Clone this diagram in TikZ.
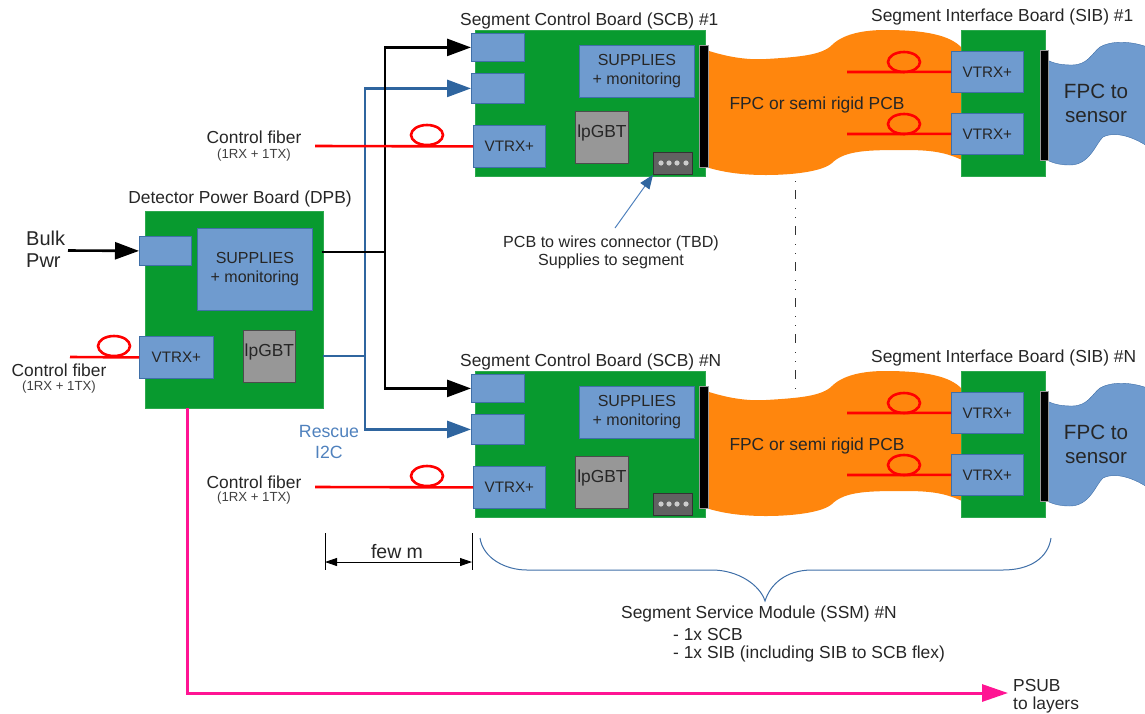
\documentclass[tikz,border=0pt]{standalone}
\usepackage{fontspec}
\setmainfont{Liberation Sans}
\usetikzlibrary{arrows.meta}

\definecolor{boardgreen}{HTML}{089A2F}
\definecolor{partblue}{HTML}{6F9BCF}
\definecolor{partedge}{HTML}{3F6FA8}
\definecolor{wireblue}{HTML}{2F659F}
\definecolor{labelblue}{HTML}{4F81BD}
\definecolor{flexorange}{HTML}{FF860D}
\definecolor{chipgrey}{HTML}{979797}
\definecolor{pinkwire}{HTML}{FF1493}

\tikzset{
  board/.style={fill=boardgreen, draw=boardgreen!85!white, inner sep=0pt},
  part/.style={fill=partblue, draw=partedge, line width=0.8pt, inner sep=0pt, align=center, text=black!85, font=\fontsize{16}{19}\selectfont},
  vtrx/.style={part, font=\fontsize{15.2}{18}\selectfont},
  chip/.style={fill=chipgrey, draw=black!70, line width=0.8pt, inner sep=0pt},
  plug/.style={fill=black!62, draw=black!80, line width=0.8pt, inner sep=0pt},
  bar/.style={fill=black, draw=black!40, inner sep=0pt},
  txt/.style={inner sep=0pt, align=center, text=black!85, font=\fontsize{17.4}{18}\selectfont},
  small/.style={inner sep=0pt, text=black!75, font=\fontsize{13.2}{15}\selectfont},
  fiber/.style={draw=red, line width=2.6pt},
  pwr/.style={draw=black, line width=2.6pt},
  pwrtip/.style={-{Triangle[length=24pt,width=17pt,black]}},
  i2c/.style={draw=wireblue, line width=2.6pt},
  i2ctip/.style={-{Triangle[length=24pt,width=17pt,wireblue]}},
}

% box from top left corner, in pixels: style, name, corner, width, height, text
\newcommand{\boxat}[6]{\node[#1, anchor=north west, minimum width=#4pt, minimum height=#5pt] (#2) at (#3) {#6};}

\begin{document}
\begin{tikzpicture}[x=1pt,y=-1pt]
  \useasboundingbox (0,0) rectangle (1145,713);

  % vertical dash dot between the two rows
  \coordinate (dashtop) at (795,181);
  \coordinate (dashbot) at (795,396);
  \draw[black!80, line width=0.8pt, dash pattern=on 1pt off 8pt on 9pt off 9pt on 1pt off 8pt] (dashtop) -- (dashbot);

  % the two segments
  \foreach \row/\dy/\dl/\num in {a/0/0/1, b/341/345/N} {
    \begin{scope}[yshift=-\dy pt]
      % flex and sensor tail
      \fill[flexorange] (706,50) .. controls (730,58) and (750,60) .. (766,59)
        .. controls (800,57) and (822,55) .. (832,45)
        .. controls (845,32) and (870,30) .. (885,30)
        .. controls (925,30) and (950,35) .. (962,48)
        -- (962,160) .. controls (945,152) and (930,150) .. (905,150)
        .. controls (870,150) and (845,150) .. (832,163)
        .. controls (822,172) and (790,175) .. (766,175)
        .. controls (745,175) and (725,173) .. (706,167) -- cycle;
      \draw[fill=partblue, draw=partedge] (1047,60) .. controls (1055,64) and (1063,65) .. (1072,65)
        .. controls (1088,65) and (1092,53) .. (1100,47)
        .. controls (1110,41) and (1130,40) .. (1150,48)
        -- (1150,148) .. controls (1130,134) and (1112,132) .. (1103,137)
        .. controls (1096,143) and (1090,165) .. (1070,165)
        .. controls (1062,165) and (1055,164) .. (1047,160) -- cycle;

      % SCB
      \boxat{board}{scb\row}{475,30}{230}{146}{}
      \boxat{part}{pin\row}{471,33}{53}{28}{}
      \boxat{part}{rin\row}{471,73}{53}{30}{}
      \boxat{vtrx}{vtrx\row}{473,125}{72}{42}{VTRX+}
      \boxat{part}{sup\row}{579,45}{115}{52}{SUPPLIES\\+ monitoring}
      \node[chip, anchor=north west, minimum width=53pt, minimum height=52pt] (gbt\row) at (575,{111+\dl-\dy}) {};
      \node[txt] (gbtl\row) at ([yshift=4pt]gbt\row.center) {lpGBT};
      \boxat{plug}{con\row}{653,152}{39}{22}{}
      \foreach \px in {661,669,677,686} {
        \fill[black!20] (\px,163) circle (2.6pt);
      }
      \boxat{bar}{bara\row}{699,45}{9}{122}{}
      \node[txt, anchor=west] (scbl\row) at (460,21) {Segment Control Board (SCB) \#\num};

      % SIB
      \boxat{board}{sib\row}{961,30}{84}{146}{}
      \boxat{vtrx}{vt\row}{951,51}{72}{41}{VTRX+}
      \boxat{vtrx}{vu\row}{951,113}{72}{41}{VTRX+}
      \boxat{bar}{barb\row}{1040,50}{8}{110}{}
      \node[txt, anchor=west] (sibl\row) at (871,17) {Segment Interface Board (SIB) \#\num};
      \node[txt] (flexl\row) at (817,105) {FPC or semi rigid PCB};
      \node[txt, font=\fontsize{20.6}{24}\selectfont] (fpcl\row) at (1096,103) {FPC to\\sensor};

      % fibers on the flex
      \coordinate (ft\row) at (847,72);
      \coordinate (fu\row) at (847,134);
      \draw[fiber] (ft\row) -- (vt\row.west);
      \draw[fiber] (fu\row) -- (vu\row.west);
      \draw[fiber] (904,62) ellipse (16 and 10);
      \draw[fiber] (904,124) ellipse (16 and 10);
    \end{scope}
  }

  % DPB
  \boxat{board}{dpb}{145,211}{178}{197}{}
  \boxat{part}{pwrin}{139,236}{52}{29}{}
  \boxat{part}{supd}{197,228}{115}{82}{SUPPLIES\\+ monitoring}
  \boxat{vtrx}{vtrxd}{139,336}{74}{42}{VTRX+}
  \boxat{chip}{gbtd}{243,330}{52}{52}{}
  \node[txt] (gbtld) at ([yshift=4pt]gbtd.center) {lpGBT};
  \node[txt] (dpbl) at (240,199) {Detector Power Board (DPB)};

  % power and rescue wires
  \coordinate (pwrout) at (322,252);
  \coordinate (pwrbus) at (385,252);
  \coordinate (i2cout) at (323,356);
  \coordinate (i2cbus) at (365,356);
  \draw[i2c] (i2cout) -- (i2cbus);
  \draw[i2c, i2ctip] (i2cbus) |- (rina.west);
  \draw[i2c, i2ctip] (i2cbus) |- (rinb.west);
  \draw[pwr] (pwrout) -- (pwrbus);
  \draw[pwr, pwrtip] (pwrbus) |- (pina.west);
  \draw[pwr, pwrtip] (pwrbus) |- (pinb.west);
  \coordinate (bulk) at (68,250.5);
  \draw[pwr, pwrtip] (bulk) -- (pwrin.west);
  \node[txt, anchor=west, align=left, font=\fontsize{20}{22}\selectfont] (bulkl) at (26,249) {Bulk\\Pwr};

  % control fibers
  \coordinate (ctla) at (315,146);
  \coordinate (ctlb) at (315,487);
  \coordinate (ctld) at (70,357);
  \draw[fiber] (ctla) -- (vtrxa.west);
  \draw[fiber] (ctlb) -- (vtrxb.west);
  \draw[fiber] (ctld) -- (vtrxd.west);
  \draw[fiber] (427,135) ellipse (16 and 10);
  \draw[fiber] (427,476) ellipse (16 and 10);
  \draw[fiber] (114,346) ellipse (16 and 10);
  \node[txt] (ctlal) at (254,137) {Control fiber};
  \node[small] (ctlas) at (254,155) {(1RX + 1TX)};
  \node[txt] (ctlbl) at (254,482) {Control fiber};
  \node[small] (ctlbs) at (254,498) {(1RX + 1TX)};
  \node[txt] (ctldl) at (59,370) {Control fiber};
  \node[small] (ctlds) at (59,387) {(1RX + 1TX)};
  \node[txt, text=labelblue, font=\fontsize{17.7}{21}\selectfont] (rescue) at (329,442) {Rescue\\I2C};

  % connector note
  \node[txt, font=\fontsize{16.1}{18}\selectfont] (conl) at (611,252) {PCB to wires connector (TBD)\\Supplies to segment};
  \coordinate (conarrow) at (615,228);
  \draw[labelblue, line width=1pt, -{Triangle[length=14pt,width=11pt,wireblue]}] (conarrow) -- (cona.south west);

  % few m
  \coordinate (dimla) at (325,533);
  \coordinate (dimlb) at (325,570);
  \coordinate (dimra) at (472,533);
  \coordinate (dimrb) at (472,570);
  \coordinate (diml) at (325,562);
  \coordinate (dimr) at (472,562);
  \draw[black, line width=0.8pt] (dimla) -- (dimlb);
  \draw[black, line width=0.8pt] (dimra) -- (dimrb);
  \draw[black, line width=0.8pt, {Triangle[length=12pt,width=8pt]}-{Triangle[length=12pt,width=8pt]}] (diml) -- (dimr);
  \node[txt, font=\fontsize{19.5}{22}\selectfont] (feml) at (397,552) {few m};

  % brace under the segment
  \draw[partedge, line width=1pt] (480,538) .. controls (483,558) and (505,570) .. (527,570) -- (712,570)
    .. controls (738,570) and (760,585) .. (765,601) .. controls (770,585) and (785,570) .. (812,570) -- (1003,570)
    .. controls (1030,570) and (1048,558) .. (1051,538);
  \node[txt, anchor=west] (ssml) at (621,614) {Segment Service Module (SSM) \#N};
  \node[txt, anchor=west] (ssma) at (673,634) {- 1x SCB};
  \node[txt, anchor=west] (ssmb) at (673,654) {- 1x SIB (including SIB to SCB flex)};

  % PSUB
  \coordinate (psubend) at (1008,693);
  \draw[pinkwire, line width=3pt, -{Triangle[length=26pt,width=17pt,pinkwire]}] (187,408) |- (psubend);
  \node[txt, anchor=west] (psubl) at (1013,685) {PSUB};
  \node[txt, anchor=west] (psubm) at (1013,705) {to layers};
\end{tikzpicture}
\end{document}
